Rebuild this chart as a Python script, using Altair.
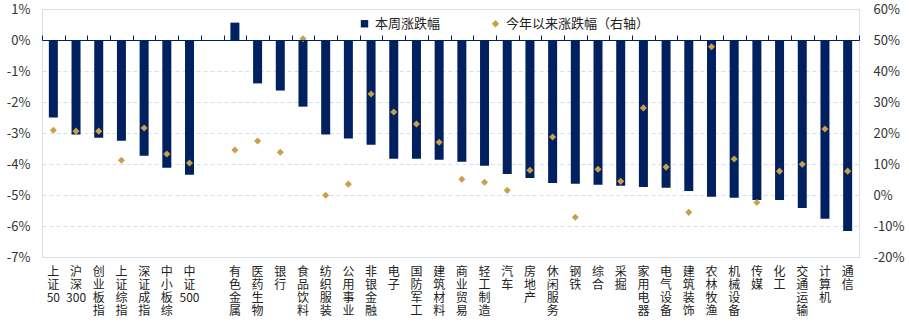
import altair as alt
import pandas as pd
import re

categories = ["上证50", "沪深300", "创业板指", "上证综指", "深证成指", "中小板综", "中证500", " ",
              "有色金属", "医药生物", "银行", "食品饮料", "纺织服装", "公用事业", "非银金融", "电子",
              "国防军工", "建筑材料", "商业贸易", "轻工制造", "汽车", "房地产", "休闲服务", "钢铁",
              "综合", "采掘", "家用电器", "电气设备", "建筑装饰", "农林牧渔", "机械设备", "传媒",
              "化工", "交通运输", "计算机", "通信"]

weekly = [-2.50, -3.05, -3.15, -3.25, -3.73, -4.12, -4.35, None,
          0.56, -1.40, -1.63, -2.15, -3.05, -3.18, -3.38, -3.83,
          -3.83, -3.86, -3.93, -4.06, -4.32, -4.45, -4.61, -4.64,
          -4.67, -4.70, -4.74, -4.77, -4.87, -5.06, -5.09, -5.16,
          -5.16, -5.42, -5.77, -6.16]

ytd = [20.9, 20.6, 20.6, 11.2, 21.6, 13.2, 10.3, None,
       14.5, 17.4, 13.8, 50.4, -0.1, 3.5, 32.6, 26.8,
       22.9, 17.0, 5.1, 4.1, 1.5, 8.0, 18.7, -7.2,
       8.3, 4.4, 28.1, 9.0, -5.6, 47.8, 11.6, -2.4,
       7.7, 9.9, 21.3, 7.7]

S1 = "本周涨跌幅"
S2 = "今年以来涨跌幅（右轴）"
NAVY = "#002060"
GOLD = "#C9A04A"
FONT = "Noto Sans CJK SC"


def vlabel(s):
    parts = re.findall(r"\d+|.", s)
    return "|".join(parts)


cats = [vlabel(c) for c in categories]

df_bar = pd.DataFrame({"cat": cats, "val": weekly, "series": S1}).dropna()
df_pt = pd.DataFrame({"cat": cats, "val": ytd, "series": S2}).dropna()

color_scale = alt.Scale(domain=[S1, S2], range=[NAVY, GOLD])
shape_scale = alt.Scale(domain=[S1, S2], range=["square", "diamond"])

bars = alt.Chart(df_bar).mark_bar(size=9).encode(
    x=alt.X("cat:N", sort=cats, scale=alt.Scale(domain=cats, paddingInner=0, paddingOuter=0),
            axis=alt.Axis(orient="top", offset=-31, labels=False, ticks=True, tickSize=5,
                          tickBand="extent", tickColor=NAVY, domain=True, domainColor=NAVY,
                          domainWidth=1.2, grid=False, title=None, zindex=1)),
    y=alt.Y("val:Q", scale=alt.Scale(domain=[-7, 1], nice=False, zero=False),
            axis=alt.Axis(values=[-7, -6, -5, -4, -3, -2, -1, 0, 1], labelExpr="datum.value + '%'",
                          title=None, grid=True, gridColor="#d3dfee", gridDash=[4, 3],
                          ticks=False, domain=False, labelPadding=12, labelFontSize=13,
                          labelColor="#333333", labelFont=FONT)),
    color=alt.Color("series:N", scale=color_scale,
                    legend=alt.Legend(orient="none", legendX=316, legendY=8, direction="horizontal",
                                      title=None, labelFontSize=13, labelFont=FONT, labelColor="#222222",
                                      symbolSize=55, columnPadding=48, labelLimit=300,
                                      symbolStrokeWidth=0)),
)

points = alt.Chart(df_pt).mark_point(filled=True, size=50, opacity=1).encode(
    x=alt.X("cat:N", sort=cats, scale=alt.Scale(domain=cats, paddingInner=0, paddingOuter=0),
            axis=alt.Axis(orient="bottom", labels=True, ticks=False, domain=False, grid=False,
                          title=None, labelAngle=0, labelExpr="split(datum.label, '|')",
                          labelBaseline="top", labelAlign="center", labelPadding=9,
                          labelFontSize=12, labelLineHeight=13, labelFont=FONT,
                          labelColor="#222222", labelOverlap=False, labelBound=False)),
    y=alt.Y("val:Q", scale=alt.Scale(domain=[-20, 60], nice=False, zero=False),
            axis=alt.Axis(orient="right", values=[-20, -10, 0, 10, 20, 30, 40, 50, 60],
                          labelExpr="datum.value + '%'", title=None, grid=False, ticks=False,
                          domain=False, labelPadding=14, labelFontSize=13, labelColor="#333333",
                          labelFont=FONT)),
    color=alt.Color("series:N", scale=color_scale, legend=None),
    shape=alt.Shape("series:N", scale=shape_scale, legend=None),
)

chart = alt.layer(bars, points).resolve_scale(y="independent").resolve_axis(x="independent").properties(
    width=817, height=248,
    autosize=alt.AutoSizeParams(type="none"),
    padding={"left": 42, "top": 9, "right": 50, "bottom": 65},
).configure_view(stroke=NAVY, strokeWidth=1.2).configure(font=FONT, background="white")

chart.save("out.html", embed_options={"renderer": "svg", "actions": False})
